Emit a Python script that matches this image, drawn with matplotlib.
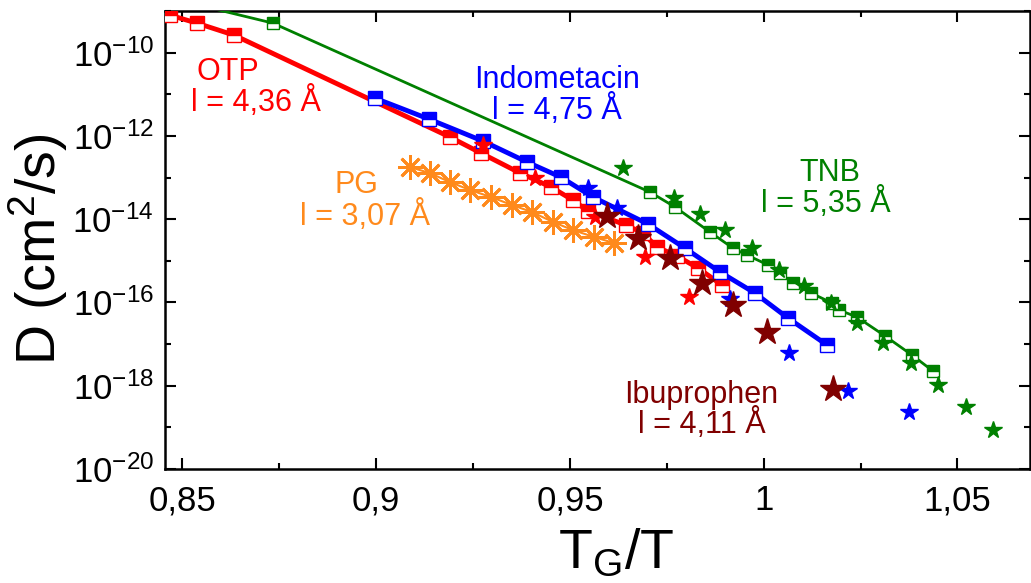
import matplotlib
matplotlib.use("Agg")
import matplotlib.pyplot as plt
from matplotlib.ticker import FixedLocator, FixedFormatter, NullFormatter

plt.rcParams["font.family"] = ["Liberation Sans", "DejaVu Sans"]
plt.rcParams["mathtext.fontset"] = "custom"
plt.rcParams["mathtext.rm"] = "Liberation Sans"
plt.rcParams["mathtext.it"] = "Liberation Sans:italic"
plt.rcParams["mathtext.bf"] = "Liberation Sans:bold"

# OTP (l = 4,36 A)
otp_x = [0.8467, 0.8537, 0.8633, 0.9190, 0.9270, 0.9371, 0.9451, 0.9507,
         0.9546, 0.9644, 0.9688, 0.9724, 0.9776, 0.9830, 0.9892]
otp_d = [8.02e-10, 5.15e-10, 2.65e-10, 9.44e-13, 3.90e-13, 1.29e-13, 5.94e-14, 2.90e-14,
         1.58e-14, 7.28e-15, 4.68e-15, 2.16e-15, 1.31e-15, 6.76e-16, 2.64e-16]
otp_star_x = [0.9275, 0.9409, 0.9564, 0.9693, 0.9807]
otp_star_d = [6.07e-13, 9.77e-14, 1.13e-14, 1.24e-15, 1.36e-16]

# Indometacin (l = 4,75 A)
indo_x = [0.8996, 0.9136, 0.9275, 0.9389, 0.9476, 0.9559, 0.9701, 0.9796,
          0.9887, 0.9977, 1.0062, 1.0163]
indo_d = [8.15e-12, 2.55e-12, 7.57e-13, 2.37e-13, 1.03e-13, 3.42e-14, 7.69e-15, 2.04e-15,
          5.41e-16, 1.69e-16, 4.26e-17, 9.57e-18]
indo_star_x = [0.9546, 0.9621, 0.9913, 1.0065, 1.0217, 1.0375]
indo_star_d = [5.62e-14, 1.86e-14, 1.22e-16, 6.15e-18, 7.52e-19, 2.36e-19]

# TNB (l = 5,35 A)
tnb_x = [0.8467, 0.8733, 0.9706, 0.9771, 0.9861, 0.9920, 0.9956, 1.0011, 1.0042,
         1.0075, 1.0122, 1.0176, 1.0194, 1.0240, 1.0313, 1.0382, 1.0436]
tnb_d = [2.05e-9, 5.15e-10, 4.51e-14, 1.97e-14, 4.94e-15, 2.04e-15, 1.39e-15, 7.98e-16, 5.12e-16,
         2.94e-16, 1.69e-16, 9.75e-17, 6.62e-17, 4.50e-17, 1.57e-17, 5.51e-18, 2.28e-18]
tnb_star_x = [0.9636, 0.9768, 0.9835, 0.9900, 0.9969, 1.0039, 1.0104, 1.0173,
              1.0240, 1.0307, 1.0380, 1.0449, 1.0522, 1.0591]
tnb_star_d = [1.70e-13, 3.24e-14, 1.34e-14, 5.52e-15, 2.04e-15, 6.05e-16, 2.49e-16, 9.75e-17,
              3.23e-17, 1.07e-17, 3.54e-18, 1.05e-18, 3.10e-19, 8.71e-20]

# Ibuprophen (l = 4,11 A)
ibu_x = [0.9595, 0.9675, 0.9758, 0.9840, 0.9920, 1.0008, 1.0178]
ibu_d = [1.20e-14, 3.55e-15, 1.17e-15, 2.94e-16, 8.73e-17, 1.96e-17, 8.39e-19]

# PG (l = 3,07 A)
pg_x = [0.9087, 0.9138, 0.9190, 0.9242, 0.9296, 0.9350, 0.9402, 0.9456,
        0.9507, 0.9562, 0.9613]
pg_d = [1.79e-13, 1.29e-13, 7.83e-14, 5.04e-14, 3.42e-14, 2.20e-14, 1.49e-14, 8.59e-15,
        5.52e-15, 3.75e-15, 2.69e-15]

x_ticks = [0.85, 0.9, 0.95, 1.0, 1.05]
x_labels = ["0,85", "0,9", "0,95", "1", "1,05"]
x_minor = [0.875, 0.925, 0.975, 1.025]
y_ticks = [1e-20, 1e-18, 1e-16, 1e-14, 1e-12, 1e-10]
y_labels = ["$10^{-20}$", "$10^{-18}$", "$10^{-16}$", "$10^{-14}$", "$10^{-12}$", "$10^{-10}$"]
y_minor = [1e-19, 1e-17, 1e-15, 1e-13, 1e-11, 1e-9]

RED = "#ff0000"
BLUE = "#0000ff"
GREEN = "#008000"
ORANGE = "#ff8a1c"
DARKRED = "#800000"

fig = plt.figure(figsize=(10.31, 5.83), dpi=100)
ax = fig.add_axes([0.160, 0.1955, 0.839, 0.7855])

sq = dict(marker="s", fillstyle="top", markerfacecoloralt="white", markeredgewidth=1.0)

ax.plot(tnb_x, tnb_d, color=GREEN, lw=2.0, ms=9, markeredgecolor=GREEN, **sq, zorder=3)
ax.plot(tnb_star_x, tnb_star_d, ls="none", marker="*", color=GREEN, ms=13, zorder=4)

ax.plot(pg_x, pg_d, color=ORANGE, lw=1.5, marker=(8, 2, 0), ms=18, mew=2.0, zorder=3)

ax.plot(otp_x, otp_d, color=RED, lw=3.5, ms=10, markeredgecolor=RED, **sq, zorder=5)
ax.plot(otp_star_x, otp_star_d, ls="none", marker="*", color=RED, ms=13, zorder=6)

ax.plot(indo_x, indo_d, color=BLUE, lw=3.5, ms=10, markeredgecolor=BLUE, **sq, zorder=5)
ax.plot(indo_star_x, indo_star_d, ls="none", marker="*", color=BLUE, ms=13, zorder=6)

ax.plot(ibu_x, ibu_d, ls="none", marker="*", color=DARKRED, ms=20, zorder=7)

ax.set_yscale("log")
ax.set_xlim(0.8455, 1.0687)
ax.set_ylim(1e-20, 1e-9)

ax.xaxis.set_major_locator(FixedLocator(x_ticks))
ax.xaxis.set_major_formatter(FixedFormatter(x_labels))
ax.xaxis.set_minor_locator(FixedLocator(x_minor))
ax.yaxis.set_major_locator(FixedLocator(y_ticks))
ax.yaxis.set_major_formatter(FixedFormatter(y_labels))
ax.yaxis.set_minor_locator(FixedLocator(y_minor))
ax.yaxis.set_minor_formatter(NullFormatter())

ax.tick_params(which="both", direction="in", top=True, right=True, width=1.5,
               labelsize=25)
ax.tick_params(which="major", length=8)
ax.tick_params(axis="x", which="major", pad=11)
ax.tick_params(axis="y", which="major", pad=8)
ax.tick_params(which="minor", length=4)
for s in ax.spines.values():
    s.set_linewidth(1.8)

ax.set_xlabel("T$_\\mathrm{G}$/T", fontsize=40, labelpad=8)
ax.set_ylabel("D (cm$^2$/s)", fontsize=40, labelpad=2)
ax.xaxis.label.set_x(0.522)
ax.yaxis.label.set_y(0.48)

# series names and jump lengths
ann = dict(fontsize=22, ha="center", va="center")
ax.text(0.8617, 3.43e-11, "OTP", color=RED, **ann)
ax.text(0.8689, 6.53e-12, "l = 4,36 Å", color=RED, **ann)
ax.text(0.9466, 2.20e-11, "Indometacin", color=BLUE, **ann)
ax.text(0.9466, 4.20e-12, "l = 4,75 Å", color=BLUE, **ann)
ax.text(0.8950, 6.64e-14, "PG", color=ORANGE, **ann)
ax.text(0.8971, 1.20e-14, "l = 3,07 Å", color=ORANGE, **ann)
ax.text(1.0171, 1.29e-13, "TNB", color=GREEN, **ann)
ax.text(1.0160, 2.45e-14, "l = 5,35 Å", color=GREEN, **ann)
ax.text(0.9838, 6.03e-19, "Ibuprophen", color=DARKRED, **ann)
ax.text(0.9840, 1.21e-19, "l = 4,11 Å", color=DARKRED, **ann)

fig.savefig("out.png", dpi=100)
